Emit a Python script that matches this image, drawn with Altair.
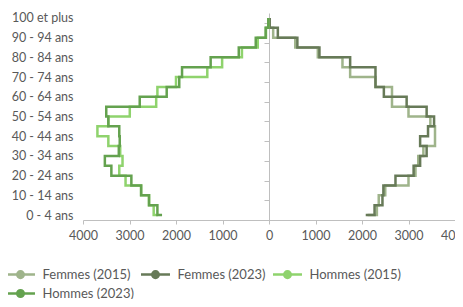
import json
import altair as alt
import pandas as pd

ages = ["0 - 4 ans", "5 - 9 ans", "10 - 14 ans", "15 - 19 ans", "20 - 24 ans",
        "25 - 29 ans", "30 - 34 ans", "35 - 39 ans", "40 - 44 ans", "45 - 49 ans",
        "50 - 54 ans", "55 - 59 ans", "60 - 64 ans", "65 - 69 ans", "70 - 74 ans",
        "75 - 79 ans", "80 - 84 ans", "85 - 89 ans", "90 - 94 ans", "95 - 99 ans",
        "100 et plus"]

series = ["Femmes (2015)", "Femmes (2023)", "Hommes (2015)", "Hommes (2023)"]
colors = ["#9fb48b", "#677a58", "#8fd36d", "#64a24f"]

femmes_2015 = [2120, 2320, 2360, 2500, 3000, 3150, 3210, 3320, 3570, 3570, 3470,
               3000, 2645, 2645, 2290, 1745, 1580, 1050, 565, 90, 10]
femmes_2023 = [2080, 2270, 2440, 2460, 2720, 3110, 3250, 3390, 3250, 3420, 3550,
               3390, 2960, 2470, 2290, 2290, 1745, 1085, 610, 190, 15]
hommes_2015 = [2390, 2480, 2580, 2750, 3085, 3220, 3150, 3200, 3455, 3690, 3455,
               2994, 2426, 2400, 2000, 1327, 1008, 582, 242, 65, 15]
hommes_2023 = [2300, 2400, 2580, 2750, 2960, 3390, 3530, 3230, 3210, 3220, 3455,
               3500, 2780, 2200, 1930, 1870, 1255, 650, 285, 72, 15]

x_ticks = [-4000, -3000, -2000, -1000, 0, 1000, 2000, 3000, 4000]

rows = []
for name, vals, sign in [(series[0], femmes_2015, 1), (series[1], femmes_2023, 1),
                         (series[2], hommes_2015, -1), (series[3], hommes_2023, -1)]:
    for i, v in enumerate(vals):
        rows.append({"serie": name, "idx": i, "valeur": sign * v})
df = pd.DataFrame(rows)

n = len(ages)
y_ticks = [i - 0.5 for i in range(0, n + 1, 2)]
label_expr = f"datum.value > {n - 1} ? '' : {json.dumps(ages)}[round(datum.value + 0.5)]"

W, H = 372, 207
step = H / n

# legend symbol: short line with a dot (concentric stroked circles)
u = 7.0
parts = [f"M{-14.5/u:.3f},0L{14.5/u:.3f},0"]
for rp in [1.0, 2.2, 3.3]:
    r = rp / u
    parts.append(f"M{-r:.3f},0A{r:.3f},{r:.3f} 0 1,0 {r:.3f},0A{r:.3f},{r:.3f} 0 1,0 {-r:.3f},0")
symbol_path = "".join(parts)

font = "Lato"
grey = "#595959"
axis_grey = "#bfbfbf"

chart = alt.Chart(df).mark_line(interpolate="step-after", strokeWidth=2.5).encode(
    x=alt.X("valeur:Q",
            scale=alt.Scale(domain=[-4000, 4000], nice=False, zero=False),
            axis=alt.Axis(values=x_ticks, labelExpr="'' + abs(datum.value)",
                          title=None, grid=False, tickSize=4, labelPadding=5,
                          labelFlush=False, labelOverlap=False,
                          domainColor=axis_grey, tickColor=axis_grey,
                          labelColor=grey, labelFont=font, labelFontSize=12.5)),
    y=alt.Y("idx:Q",
            scale=alt.Scale(domain=[-0.5, n - 0.5], nice=False, zero=False),
            axis=alt.Axis(values=y_ticks, labelExpr=label_expr, title=None,
                          grid=False, offset=-W / 2, tickSize=5,
                          labelPadding=W / 2 + 5, labelOffset=-step / 2,
                          labelOverlap=False, labelFlush=False,
                          domainColor=axis_grey, tickColor=axis_grey,
                          labelColor=grey, labelFont=font, labelFontSize=12.5)),
    color=alt.Color("serie:N",
                    scale=alt.Scale(domain=series, range=colors),
                    legend=alt.Legend(title=None, orient="none", legendX=-71,
                                      legendY=253, direction="horizontal",
                                      columns=3, symbolType=symbol_path,
                                      symbolSize=196, symbolStrokeWidth=2.5,
                                      labelFont=font, labelFontSize=13,
                                      labelColor=grey, labelOffset=13.5,
                                      columnPadding=2, rowPadding=2, padding=0)),
    order=alt.Order("idx:Q"),
).properties(
    width=W, height=H,
    autosize=alt.AutoSizeParams(type="none"),
    padding={"left": 75, "top": 5, "right": 0, "bottom": 79},
).configure_view(strokeWidth=0)

chart.save("out.html", embed_options={"renderer": "svg", "actions": False})
